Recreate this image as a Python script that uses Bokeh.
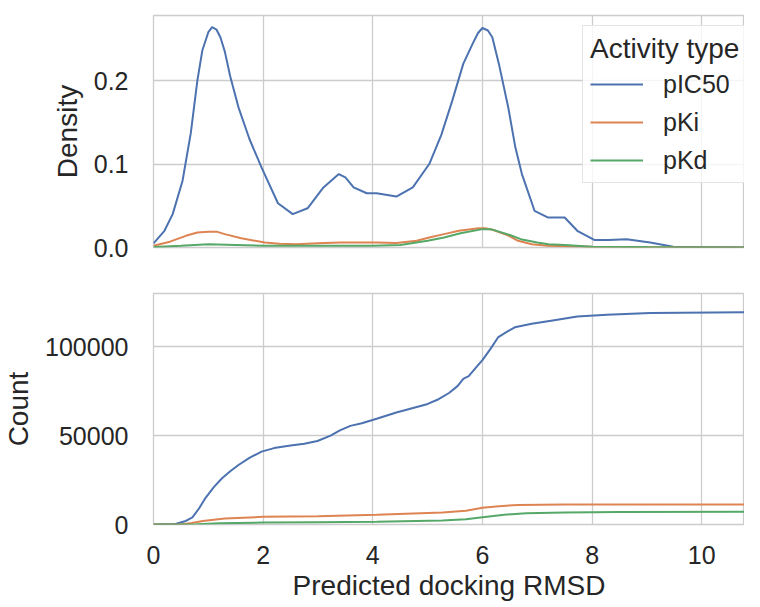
from bokeh.plotting import figure
from bokeh.layouts import column
from bokeh.models import Range1d, FixedTicker, Legend, LegendItem, PrintfTickFormatter, BasicTickFormatter
from bokeh.embed import file_html
from bokeh.resources import INLINE

# ---- data ----
series_names = ["pIC50", "pKi", "pKd"]
colors = ["#4c72b0", "#dd8452", "#55a868"]

pic50_den_x = [0.0, 0.2, 0.35, 0.53, 0.68, 0.8, 0.89, 1.0, 1.07, 1.15, 1.22, 1.3, 1.4, 1.55, 1.75, 1.97, 2.27, 2.54, 2.81,
               3.1, 3.38, 3.5, 3.65, 3.89, 4.07, 4.43, 4.73, 5.03, 5.25, 5.45, 5.65, 5.82, 5.92, 6.0, 6.1, 6.18, 6.3, 6.47,
               6.6, 6.72, 6.95, 7.19, 7.5, 7.73, 8.04, 8.3, 8.63, 9.06, 9.48, 10.0, 10.9]
pic50_den_y = [0.005, 0.02, 0.04, 0.08, 0.137, 0.2, 0.236, 0.258, 0.264, 0.261, 0.252, 0.235, 0.205, 0.168, 0.13, 0.096,
               0.053, 0.04, 0.047, 0.072, 0.088, 0.084, 0.072, 0.065, 0.065, 0.061, 0.072, 0.1, 0.135, 0.176, 0.22,
               0.244, 0.257, 0.263, 0.26, 0.252, 0.22, 0.168, 0.12, 0.088, 0.044, 0.036, 0.036, 0.02, 0.009, 0.009,
               0.01, 0.006, 0.001, 0.0005, 0.0]

pki_den_x = [0.0, 0.3, 0.59, 0.8, 1.0, 1.15, 1.3, 1.6, 2.03, 2.3, 2.6, 3.0, 3.4, 4.07, 4.43, 4.8, 5.03, 5.3, 5.57,
             5.93, 6.05, 6.2, 6.45, 6.65, 6.9, 7.19, 8.0, 9.0, 10.9]
pki_den_y = [0.002, 0.007, 0.014, 0.018, 0.019, 0.019, 0.016, 0.011, 0.006, 0.0045, 0.004, 0.005, 0.006, 0.006, 0.0055,
             0.008, 0.012, 0.016, 0.02, 0.023, 0.023, 0.021, 0.015, 0.008, 0.004, 0.002, 0.001, 0.0005, 0.0]

pkd_den_x = [0.0, 0.5, 1.0, 1.5, 2.0, 3.0, 4.0, 4.5, 5.0, 5.3, 5.6, 6.0, 6.15, 6.3, 6.5, 6.7, 7.0, 7.2, 7.5, 8.0, 9.0, 10.9]
pkd_den_y = [0.0005, 0.002, 0.004, 0.003, 0.002, 0.002, 0.002, 0.003, 0.008, 0.012, 0.017, 0.022, 0.022, 0.019, 0.015,
             0.01, 0.006, 0.004, 0.003, 0.001, 0.0005, 0.0]

pic50_cnt_x = [0.0, 0.4, 0.59, 0.71, 0.83, 0.95, 1.1, 1.25, 1.4, 1.55, 1.75, 1.97, 2.2, 2.5, 2.75, 2.99, 3.23, 3.4, 3.59,
               3.8, 4.07, 4.43, 4.97, 5.2, 5.39, 5.55, 5.65, 5.75, 5.9, 6.0, 6.15, 6.29, 6.45, 6.59, 6.9, 7.31, 7.73,
               8.27, 9.06, 10.92]
pic50_cnt_y = [0, 300, 2000, 4000, 9000, 15000, 21000, 26000, 30000, 33500, 37500, 41000, 43000, 44500, 45500, 47000,
               50000, 53000, 55500, 57000, 59500, 63000, 67500, 70500, 74000, 78000, 82000, 83500, 89000, 92500, 99000,
               105500, 108500, 111000, 113000, 115000, 117000, 118000, 119000, 119500]

pki_cnt_x = [0.0, 0.5, 0.7, 0.9, 1.3, 2.0, 3.0, 4.07, 5.27, 5.7, 6.0, 6.3, 6.65, 7.5, 10.92]
pki_cnt_y = [0, 0, 800, 2000, 3400, 4300, 4700, 5500, 6700, 7800, 9400, 10300, 11000, 11200, 11300]

pkd_cnt_x = [0.0, 0.8, 1.2, 2.0, 3.0, 4.07, 5.27, 5.7, 6.0, 6.4, 6.8, 7.5, 8.5, 10.92]
pkd_cnt_y = [0, 200, 700, 1100, 1300, 1600, 2200, 3000, 4100, 5500, 6300, 6800, 7000, 7200]

x_ticks = [0, 2, 4, 6, 8, 10]
density_ticks = [0.0, 0.1, 0.2]
count_ticks = [0, 50000, 100000]

# ---- styling ----
FONT = "Liberation Sans"
TXT = "#262626"
GRID = "#cccccc"

xr = Range1d(0, 10.78)


def style(p, show_x):
    p.outline_line_color = GRID
    p.outline_line_width = 1.3
    p.xgrid.grid_line_color = GRID
    p.ygrid.grid_line_color = GRID
    p.xgrid.grid_line_width = 1.3
    p.ygrid.grid_line_width = 1.3
    p.xgrid.ticker = FixedTicker(ticks=x_ticks)
    for ax in p.axis:
        ax.axis_line_color = None
        ax.major_tick_line_color = None
        ax.minor_tick_line_color = None
        ax.major_label_text_font = FONT
        ax.major_label_text_font_size = "25px"
        ax.major_label_text_color = TXT
        ax.axis_label_text_font = FONT
        ax.axis_label_text_font_size = "28px"
        ax.axis_label_text_font_style = "normal"
        ax.axis_label_text_color = TXT
    p.yaxis.major_label_standoff = 19
    p.yaxis.axis_label_standoff = 8
    p.xaxis.ticker = FixedTicker(ticks=x_ticks)
    if show_x:
        p.xaxis.major_label_standoff = 15
        p.xaxis.axis_label_standoff = 3
    else:
        p.xaxis.visible = False


p1 = figure(width=744, height=270, x_range=xr, y_range=Range1d(0, 0.278),
            output_backend="svg", toolbar_location=None,
            min_border_left=146, min_border_right=0, min_border_top=15, min_border_bottom=23)
p1.yaxis.axis_label = "Density"
p1.yaxis.ticker = FixedTicker(ticks=density_ticks)
p1.yaxis.formatter = PrintfTickFormatter(format="%.1f")
p1.ygrid.ticker = FixedTicker(ticks=density_ticks)
style(p1, False)

r1 = p1.line(pic50_den_x, pic50_den_y, line_color=colors[0], line_width=2)
r2 = p1.line(pki_den_x, pki_den_y, line_color=colors[1], line_width=2)
r3 = p1.line(pkd_den_x, pkd_den_y, line_color=colors[2], line_width=2)

legend = Legend(items=[LegendItem(label=series_names[0], renderers=[r1]),
                       LegendItem(label=series_names[1], renderers=[r2]),
                       LegendItem(label=series_names[2], renderers=[r3])],
                location=(429, 64), title="Activity type")
legend.title_text_font = FONT
legend.title_text_font_size = "28px"
legend.title_text_font_style = "normal"
legend.title_text_color = TXT
legend.title_standoff = 4
legend.label_text_font = FONT
legend.label_text_font_size = "25px"
legend.label_text_color = TXT
legend.glyph_width = 53
legend.glyph_height = 24
legend.label_height = 30
legend.label_standoff = 20
legend.spacing = 8
legend.padding = 7
legend.margin = 0
legend.border_line_color = GRID
legend.border_line_width = 1
legend.background_fill_alpha = 0.8
p1.add_layout(legend)

p2 = figure(width=744, height=333, x_range=xr, y_range=Range1d(0, 130000),
            output_backend="svg", toolbar_location=None,
            min_border_left=146, min_border_right=0, min_border_top=23, min_border_bottom=76)
p2.yaxis.axis_label = "Count"
p2.xaxis.axis_label = "Predicted docking RMSD"
p2.yaxis.ticker = FixedTicker(ticks=count_ticks)
p2.yaxis.formatter = BasicTickFormatter(use_scientific=False)
p2.ygrid.ticker = FixedTicker(ticks=count_ticks)
style(p2, True)

p2.line(pic50_cnt_x, pic50_cnt_y, line_color=colors[0], line_width=2)
p2.line(pki_cnt_x, pki_cnt_y, line_color=colors[1], line_width=2)
p2.line(pkd_cnt_x, pkd_cnt_y, line_color=colors[2], line_width=2)

layout = column(p1, p2, spacing=0)
open("out.html", "w").write(file_html(layout, INLINE))
